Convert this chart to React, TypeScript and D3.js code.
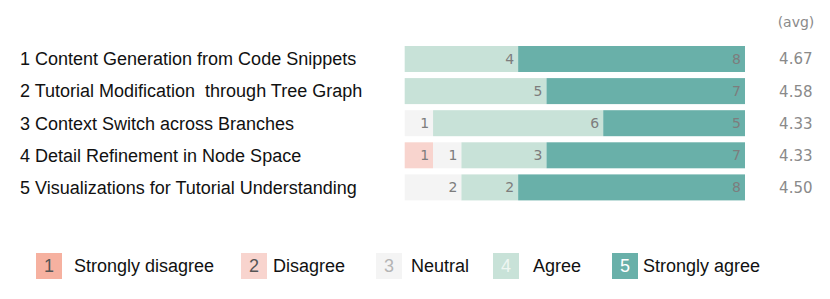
import * as d3 from 'd3';

// Survey items (rows)
const items = [
  '1 Content Generation from Code Snippets',
  '2 Tutorial Modification  through Tree Graph',
  '3 Context Switch across Branches',
  '4 Detail Refinement in Node Space',
  '5 Visualizations for Tutorial Understanding',
];

// Likert counts per item (12 respondents)
const stronglyDisagree = [0, 0, 0, 0, 0];
const disagree = [0, 0, 0, 1, 0];
const neutral = [0, 0, 1, 1, 2];
const agree = [4, 5, 6, 3, 2];
const stronglyAgree = [8, 7, 5, 7, 8];

const levels = ['Strongly disagree', 'Disagree', 'Neutral', 'Agree', 'Strongly agree'];
const levelColors = ['#f6b1a0', '#f8d4ce', '#f4f4f4', '#c8e2d8', '#69b0a9'];
const legendNumColors = ['#555555', '#555555', '#b5b5b5', '#eef6f2', '#ffffff'];

const W = 830;
const H = 299;
const valueFont = '"DejaVu Sans", sans-serif';
const labelFont = '"Liberation Sans", Arial, sans-serif';

// legend layout (square x, text x)
const legendSquareX = [36, 241, 376, 493, 612];
const legendTextX = [74, 273, 411, 533, 643];

export default function App() {
  const counts = [stronglyDisagree, disagree, neutral, agree, stronglyAgree];
  const total = d3.sum(counts, (c) => c[0]);

  const x = d3.scaleLinear().domain([0, total]).range([404.7, 745]);
  const y = d3
    .scaleBand<number>()
    .domain(d3.range(items.length))
    .range([46, 200.4])
    .paddingInner(0.19)
    .paddingOuter(0);

  const rows = items.map((label, i) => {
    let acc = 0;
    const segs = counts.map((c, k) => {
      const s = { k, x0: acc, x1: acc + c[i], v: c[i] };
      acc += c[i];
      return s;
    });
    const avg = d3.sum(counts, (c, k) => c[i] * (k + 1)) / d3.sum(counts, (c) => c[i]);
    return { label, segs, avg, i };
  });

  return (
    <svg width={W} height={H} style={{ position: 'absolute', left: 0, top: 0 }}>
      <rect width={W} height={H} fill="#ffffff" />
      <text x={796} y={22} textAnchor="middle" dominantBaseline="central" fontFamily={valueFont} fontSize={14} fill="#8a8a8a">
        (avg)
      </text>
      {rows.map((r) => {
        const y0 = y(r.i)!;
        const bh = y.bandwidth();
        const cy = y0 + bh / 2;
        return (
          <g key={r.i}>
            <text x={20} y={cy} dy="0.35em" fontFamily={labelFont} fontSize={18} fill="#111111" style={{ whiteSpace: 'pre' }}>
              {r.label}
            </text>
            {r.segs
              .filter((s) => s.v > 0)
              .map((s) => (
                <g key={s.k}>
                  <rect x={x(s.x0)} y={y0} width={x(s.x1) - x(s.x0)} height={bh} fill={levelColors[s.k]} />
                  <text
                    x={x(s.x1) - 4}
                    y={cy}
                    dy="0.36em"
                    textAnchor="end"
                    fontFamily={valueFont}
                    fontSize={14}
                    fill="#7d7d7d"
                  >
                    {s.v}
                  </text>
                </g>
              ))}
            <text x={812.5} y={cy} dy="0.36em" textAnchor="end" fontFamily={valueFont} fontSize={15} fill="#8a8a8a">
              {r.avg.toFixed(2)}
            </text>
          </g>
        );
      })}
      {levels.map((lv, k) => (
        <g key={lv}>
          <rect x={legendSquareX[k]} y={253} width={26} height={26} fill={levelColors[k]} />
          <text
            x={legendSquareX[k] + 13}
            y={266}
            dy="0.35em"
            textAnchor="middle"
            fontFamily={labelFont}
            fontSize={18}
            fill={legendNumColors[k]}
          >
            {k + 1}
          </text>
          <text x={legendTextX[k]} y={266} dy="0.35em" fontFamily={labelFont} fontSize={18} fill="#111111">
            {lv}
          </text>
        </g>
      ))}
    </svg>
  );
}
